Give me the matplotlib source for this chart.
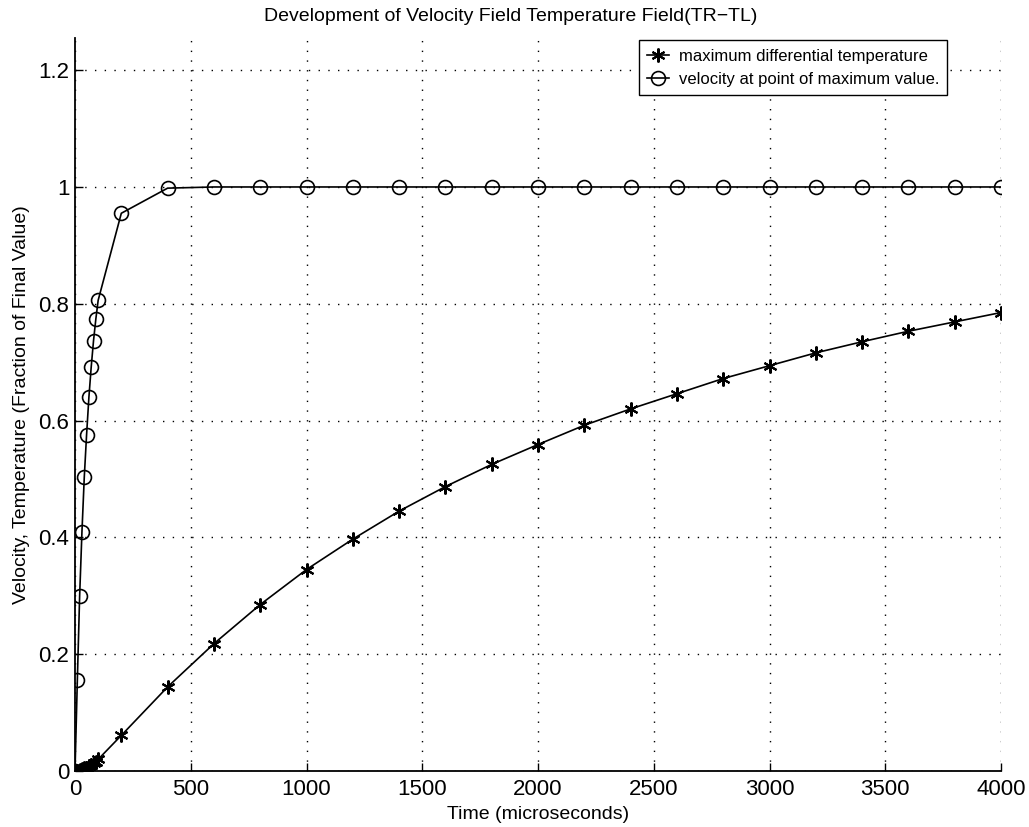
import numpy as np
import matplotlib.pyplot as plt

plt.rcParams['font.family'] = ['Liberation Sans', 'DejaVu Sans']

# time samples (microseconds)
t_temp = [0, 10, 20, 30, 40, 50, 60, 70, 80, 90, 100,
          200, 400, 600, 800, 1000, 1200, 1400, 1600, 1800, 2000,
          2200, 2400, 2600, 2800, 3000, 3200, 3400, 3600, 3800, 4000]
temp = [0.0, 0.0005, 0.0015, 0.003, 0.0045, 0.006, 0.008, 0.010, 0.013, 0.016, 0.020,
        0.061, 0.144, 0.218, 0.285, 0.345, 0.397, 0.445, 0.487, 0.525, 0.559,
        0.592, 0.620, 0.646, 0.672, 0.694, 0.716, 0.735, 0.753, 0.769, 0.785]

t_vel = [0, 10, 20, 30, 40, 50, 60, 70, 80, 90, 100,
         200, 400, 600, 800, 1000, 1200, 1400, 1600, 1800, 2000,
         2200, 2400, 2600, 2800, 3000, 3200, 3400, 3600, 3800, 4000]
vel = [0.0, 0.155, 0.30, 0.41, 0.503, 0.576, 0.64, 0.692, 0.737, 0.774, 0.806,
       0.955, 0.998, 1.0, 1.0, 1.0, 1.0, 1.0, 1.0, 1.0, 1.0,
       1.0, 1.0, 1.0, 1.0, 1.0, 1.0, 1.0, 1.0, 1.0, 1.0]

fig = plt.figure(figsize=(10.29, 8.27), dpi=100)
ax = fig.add_axes([0.0729, 0.0677, 0.8999, 0.8863])

ax.plot(t_temp, temp, color='k', linewidth=1.2, marker=(6, 2, 0), markersize=10,
        markeredgewidth=1.5, label='maximum differential temperature')
ax.plot(t_vel, vel, color='k', linewidth=1.2, marker='o', markersize=10,
        markerfacecolor='none', markeredgewidth=1.2,
        label='velocity at point of maximum value.')

ax.set_xlim(0, 4000)
ax.set_ylim(0, 1.255)
ax.set_xticks(np.arange(0, 4001, 500))
ax.set_yticks([0, 0.2, 0.4, 0.6, 0.8, 1.0, 1.2])
ax.set_yticklabels(['0', '0.2', '0.4', '0.6', '0.8', '1', '1.2'])
ax.tick_params(direction='in', length=6, width=1, labelsize=16, colors='k')
ax.tick_params(axis='x', pad=6)
ax.tick_params(axis='y', pad=4)
ax.grid(True, linestyle=(0, (1, 6)), color='k', linewidth=1.0)
ax.spines['top'].set_visible(False)
ax.spines['right'].set_visible(False)
for s in ('left', 'bottom'):
    ax.spines[s].set_linewidth(1.3)

ax.set_title('Development of Velocity Field Temperature Field(TR\u2212TL)', fontsize=14,
             x=0.471, pad=12)
ax.set_xlabel('Time (microseconds)', fontsize=14, labelpad=4)
ax.set_ylabel('Velocity, Temperature (Fraction of Final Value)', fontsize=14, labelpad=6)

leg = ax.legend(loc='upper right', bbox_to_anchor=(0.942, 0.997), fontsize=12,
                fancybox=False, framealpha=1, edgecolor='k', handlelength=1.3,
                borderpad=0.5, labelspacing=0.5, handletextpad=0.6, borderaxespad=0)
leg.get_frame().set_linewidth(1.0)

fig.savefig('out.png', dpi=100)
